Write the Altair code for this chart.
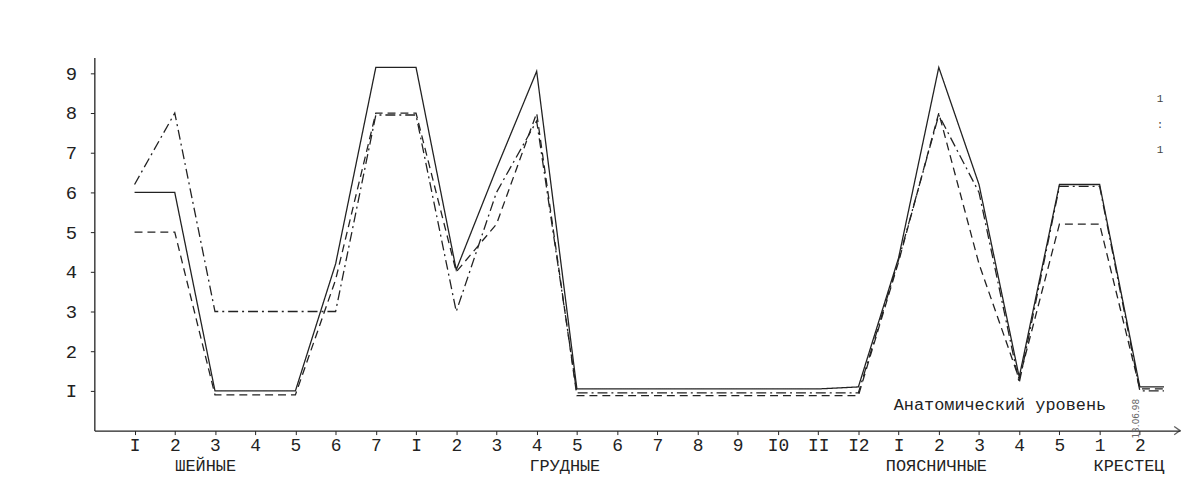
import json
import altair as alt
import pandas as pd

# ---- data ----
tick_labels = ["I", "2", "3", "4", "5", "6", "7",
               "I", "2", "3", "4", "5", "6", "7", "8", "9", "I0", "II", "I2",
               "I", "2", "3", "4", "5",
               "1", "2"]
positions = list(range(1, 27)) + [26.6]

solid =   [6.0, 6.0, 1.0, 1.0, 1.0, 4.2, 9.15,
           9.15, 4.05, 6.6, 9.05, 1.05, 1.05, 1.05, 1.05, 1.05, 1.05, 1.05, 1.1,
           4.35, 9.15, 6.2, 1.35, 6.2,
           6.2, 1.1, 1.1]
dashed =  [5.0, 5.0, 0.9, 0.9, 0.9, 3.8, 8.0,
           8.0, 4.0, 5.2, 8.0, 0.88, 0.88, 0.88, 0.88, 0.88, 0.88, 0.88, 0.88,
           4.25, 8.0, 4.2, 1.3, 5.2,
           5.2, 1.05, 1.05]
dashdot = [6.2, 8.0, 3.0, 3.0, 3.0, 3.0, 7.95,
           7.95, 3.0, 6.0, 7.8, 0.95, 0.95, 0.95, 0.95, 0.95, 0.95, 0.95, 0.95,
           4.3, 7.95, 6.0, 1.2, 6.15,
           6.15, 1.0, 1.0]

groups = ["ШЕЙНЫЕ", "ГРУДНЫЕ", "ПОЯСНИЧНЫЕ", "КРЕСТЕЦ"]
group_x = [2.77, 11.7, 20.94, 25.73]
axis_title = "Анатомический уровень"

rows = []
for name, vals in [("solid", solid), ("dashed", dashed), ("dashdot", dashdot)]:
    for p, v in zip(positions, vals):
        rows.append({"x": p, "v": v, "s": name})
df = pd.DataFrame(rows)

FONT = "Liberation Mono"
INK = "#222222"

xscale = alt.Scale(domain=[0, 27], nice=False, zero=False)
yscale = alt.Scale(domain=[0, 9.4], nice=False)

label_expr = json.dumps(tick_labels) + "[datum.value - 1]"

lines = alt.Chart(df).mark_line(strokeWidth=1.3, color=INK, clip=False).encode(
    x=alt.X("x:Q", scale=xscale,
            axis=alt.Axis(values=list(range(1, 27)), labelExpr=label_expr, title=None,
                          grid=False, domainColor=INK, domainWidth=1.3, tickColor=INK,
                          tickSize=4, labelPadding=2, labelFont=FONT, labelFontSize=18,
                          labelColor=INK)),
    y=alt.Y("v:Q", scale=yscale,
            axis=alt.Axis(values=list(range(1, 10)),
                          labelExpr="datum.value == 1 ? 'I' : datum.value",
                          title=None, grid=False, domainColor=INK, domainWidth=1.3,
                          tickColor=INK, tickSize=4, labelPadding=14, labelFont=FONT,
                          labelFontSize=19, labelColor=INK)),
    strokeDash=alt.StrokeDash("s:N",
                              scale=alt.Scale(domain=["solid", "dashed", "dashdot"],
                                              range=[[1, 0], [8, 5], [10, 4, 2, 4]]),
                              legend=None),
    detail="s:N",
)

arrow = alt.Chart(pd.DataFrame({"x": [27], "v": [0]})).mark_point(
    shape="M-1,-0.7L0,0L-1,0.7", filled=False, size=140, color=INK, strokeWidth=1.3,
    clip=False
).encode(x=alt.X("x:Q", scale=xscale), y=alt.Y("v:Q", scale=yscale))

group_df = pd.DataFrame({"x": group_x, "t": groups})
group_text = alt.Chart(group_df).mark_text(
    font=FONT, fontSize=17, color=INK, baseline="middle", align="center"
).encode(x=alt.X("x:Q", scale=xscale), y=alt.value(412), text="t:N")

title_df = pd.DataFrame({"x": [22.52], "v": [0.65], "t": [axis_title]})
title_text = alt.Chart(title_df).mark_text(
    font=FONT, fontSize=17, color=INK, baseline="middle", align="center"
).encode(x=alt.X("x:Q", scale=xscale), y=alt.Y("v:Q", scale=yscale), text="t:N")

marks_df = pd.DataFrame({"x": [26.5, 26.5, 26.5], "v": [8.35, 7.7, 7.07],
                         "t": ["1", ":", "1"]})
marks_text = alt.Chart(marks_df).mark_text(
    font=FONT, fontSize=11, color="#444", baseline="middle", align="center"
).encode(x=alt.X("x:Q", scale=xscale), y=alt.Y("v:Q", scale=yscale), text="t:N")

stamp_df = pd.DataFrame({"x": [25.9], "v": [0.3], "t": ["13.06.98"]})
stamp_text = alt.Chart(stamp_df).mark_text(
    font="DejaVu Sans", fontSize=9, color="#666", angle=270, baseline="middle",
    align="center"
).encode(x=alt.X("x:Q", scale=xscale), y=alt.Y("v:Q", scale=yscale), text="t:N")

chart = alt.layer(lines, arrow, group_text, title_text, marks_text, stamp_text).properties(
    width=1094, height=376,
    autosize=alt.AutoSizeParams(type="none"),
    padding={"left": 87, "top": 48, "right": 8, "bottom": 56},
    background="white",
).configure_view(stroke=None)

chart.save("out.html", embed_options={"renderer": "svg", "actions": False})
